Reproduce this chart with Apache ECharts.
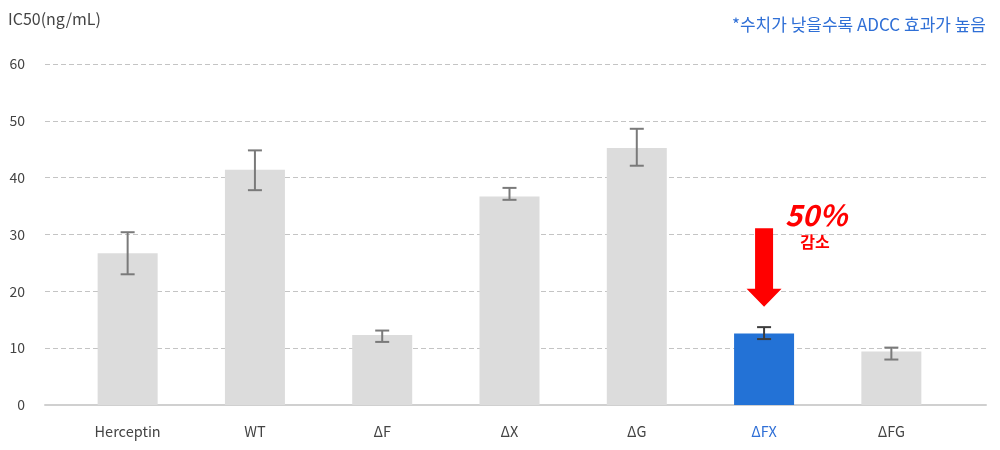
<!DOCTYPE html>
<html><head><meta charset="utf-8">
<script src="https://cdn.jsdelivr.net/npm/echarts@6/dist/echarts.min.js"></script>
<style>html,body{margin:0;padding:0;background:#fff}#c{width:1000px;height:450px}</style>
</head><body><div id="c"></div>
<script>
const categories = ['Herceptin', 'WT', 'ΔF', 'ΔX', 'ΔG', 'ΔFX', 'ΔFG'];
const ic50 = [26.7, 41.4, 12.3, 36.7, 45.2, 12.6, 9.4];
const errLow = [23.0, 37.8, 11.1, 36.1, 42.1, 11.6, 8.0];
const errHigh = [30.4, 44.8, 13.1, 38.2, 48.6, 13.7, 10.1];
const yTicks = [0, 10, 20, 30, 40, 50, 60];
const highlightIndex = 5;
const arrowFrom = 31.1, arrowTo = 17.3;

const FONT = '"Noto Sans CJK KR", "Noto Sans", sans-serif';
const chart = echarts.init(document.getElementById('c'));

const option = {
  animation: false,
  textStyle: { fontFamily: FONT },
  graphic: [
    { type: 'text', left: 8, top: 11, style: { text: 'IC50(ng/mL)', fill: '#444', font: '16px ' + FONT } },
    { type: 'text', right: 14, top: 16, style: { text: '*수치가 낮을수록 ADCC 효과가 높음', fill: '#2f6fd6', font: '17px ' + FONT } }
  ],
  grid: [
    { left: 45, right: 14, top: 64, bottom: 45 },
    { left: 64, right: 45, top: 64, bottom: 45 }
  ],
  xAxis: [
    { type: 'value', gridIndex: 0, min: 0, max: 1, show: true, axisLabel: { show: false }, axisTick: { show: false }, splitLine: { show: false },
      axisLine: { show: true, onZero: false, lineStyle: { color: '#d0d0d0', width: 2 } } },
    { type: 'category', gridIndex: 1, data: categories, axisLine: { show: false }, axisTick: { show: false },
      axisLabel: { margin: 19, fontSize: 14.5, fontFamily: FONT,
        color: (v, i) => i === highlightIndex ? '#2f6fd6' : '#444' } }
  ],
  yAxis: [
    { type: 'value', gridIndex: 0, min: yTicks[0], max: yTicks[yTicks.length - 1], interval: 10,
      axisLine: { show: false }, axisTick: { show: false },
      axisLabel: { margin: 20, fontSize: 14, color: '#444', fontFamily: FONT },
      splitLine: { show: true, lineStyle: { color: '#c4c4c4', type: [5, 3], width: 1 } } },
    { type: 'value', gridIndex: 1, min: 0, max: 60, show: false, splitLine: { show: false } }
  ],
  series: [
    { type: 'bar', xAxisIndex: 1, yAxisIndex: 1, barWidth: 60,
      data: ic50.map((v, i) => ({ value: v, itemStyle: { color: i === highlightIndex ? '#2372d6' : '#dcdcdc' } })) },
    { type: 'custom', xAxisIndex: 1, yAxisIndex: 1, z: 5,
      data: categories.map((c, i) => [i, errLow[i], errHigh[i]]),
      renderItem: function (params, api) {
        const i = api.value(0);
        const lo = api.coord([i, api.value(1)]);
        const hi = api.coord([i, api.value(2)]);
        const color = i === highlightIndex ? '#3c3c3c' : '#7a7a7a';
        const hw = 7;
        const st = { stroke: color, lineWidth: 2 };
        return { type: 'group', children: [
          { type: 'line', shape: { x1: lo[0], y1: lo[1], x2: hi[0], y2: hi[1] }, style: st },
          { type: 'line', shape: { x1: lo[0] - hw, y1: lo[1], x2: lo[0] + hw, y2: lo[1] }, style: st },
          { type: 'line', shape: { x1: hi[0] - hw, y1: hi[1], x2: hi[0] + hw, y2: hi[1] }, style: st }
        ]};
      } },
    { type: 'custom', xAxisIndex: 1, yAxisIndex: 1, z: 6,
      data: [[highlightIndex, arrowFrom, arrowTo]],
      renderItem: function (params, api) {
        const top = api.coord([api.value(0), api.value(1)]);
        const tip = api.coord([api.value(0), api.value(2)]);
        const cx = top[0];
        const headH = 18, shaftW = 9, headW = 17.5;
        return { type: 'group', children: [
          { type: 'polygon', shape: { points: [
            [cx - shaftW, top[1]], [cx + shaftW, top[1]], [cx + shaftW, tip[1] - headH],
            [cx + headW, tip[1] - headH], [cx, tip[1]], [cx - headW, tip[1] - headH], [cx - shaftW, tip[1] - headH]
          ] }, style: { fill: '#ff0000' } },
          { type: 'text', x: cx + 52, y: top[1] - 13, style: { text: '50%', fill: '#ff0000', font: 'italic bold 29px ' + FONT, align: 'center', verticalAlign: 'middle' } },
          { type: 'text', x: cx + 51, y: top[1] + 14, style: { text: '감소', fill: '#ff0000', font: 'bold 16px ' + FONT, align: 'center', verticalAlign: 'middle' } }
        ]};
      } }
  ]
};
chart.setOption(option);
</script>
</body></html>
